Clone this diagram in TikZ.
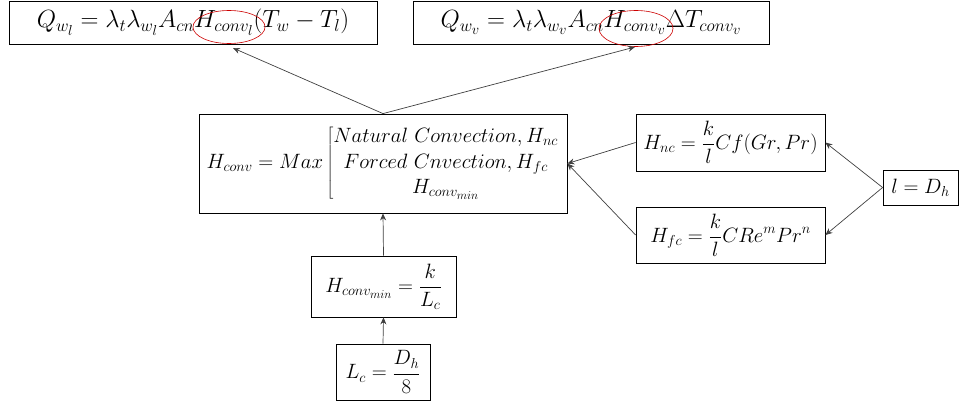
\documentclass[tikz,border=0pt]{standalone}
\usetikzlibrary{arrows.meta}
\DeclareMathSizes{24.88}{24.88}{17.28}{14.4}
\DeclareMathSizes{20.74}{20.74}{14.4}{12}
\begin{document}
\begin{tikzpicture}[x=1pt,y=-1pt,
  box/.style={draw=black,line width=0.8pt,inner sep=0pt,align=center},
  bigtxt/.style={font=\fontsize{24.88}{30}\selectfont},
  midtxt/.style={font=\fontsize{20.74}{24}\selectfont},
  conn/.style={draw=black!75,line width=0.7pt,-{Stealth[length=7pt,width=6pt]}},
  ring/.style={draw=red!80!black,line width=0.6pt}]
\useasboundingbox (0,0) rectangle (959,404);
\node[box,bigtxt,minimum width=368pt,minimum height=43pt] (qwl) at (193,22.5)
  {$Q_{w_l} = \lambda_t\lambda_{w_l}A_{cn}H_{conv_l}(T_w - T_l)$};
\node[box,bigtxt,minimum width=356pt,minimum height=43pt] (qwv) at (591,22.5)
  {$Q_{w_v} = \lambda_t\lambda_{w_v}A_{cn}H_{conv_v}\Delta T_{conv_v}$};
\draw[ring] (229,27) ellipse [x radius=36pt,y radius=16.5pt];
\draw[ring] (636,28.5) ellipse [x radius=37pt,y radius=18pt];
\node[box,midtxt,minimum width=368pt,minimum height=99pt] (hconv) at (383,163.5)
  {$\displaystyle H_{conv} = Max\left[\begin{array}{@{}c@{}} Natural\ Convection, H_{nc}\\[2pt] Forced\ Cnvection, H_{fc}\\[1pt] H_{conv_{min}}\end{array}\right.$};
\node[box,midtxt,minimum width=189pt,minimum height=57pt] (hnc) at (730.5,142.5)
  {$\displaystyle H_{nc} = \frac{k}{l}Cf(Gr,Pr)$};
\node[box,midtxt,minimum width=189pt,minimum height=56pt] (hfc) at (730.5,235)
  {$\displaystyle H_{fc} = \frac{k}{l}CRe^mPr^n$};
\node[box,midtxt,minimum width=75pt,minimum height=35pt] (ldh) at (920.5,187.5)
  {$l = D_h$};
\node[box,midtxt,minimum width=145pt,minimum height=61pt] (hmin) at (383.5,286.5)
  {$\displaystyle H_{conv_{min}} = \frac{k}{L_c}$};
\node[box,midtxt,minimum width=94pt,minimum height=56pt] (lc) at (383,372)
  {$\displaystyle L_c = \frac{D_h}{8}$};
\coordinate (t1) at (233,48);
\coordinate (t2) at (635,47);
\draw[conn] (hconv.north) -- (t1);
\draw[conn] (hconv.north) -- (t2);
\draw[conn] (hnc.west) -- (hconv.east);
\draw[conn] (hfc.west) -- (hconv.east);
\draw[conn] (ldh.west) -- (hnc.east);
\draw[conn] (ldh.west) -- (hfc.east);
\draw[conn] (hmin.north) -- (hconv.south);
\draw[conn] (lc.north) -- (hmin.south);
\end{tikzpicture}
\end{document}
